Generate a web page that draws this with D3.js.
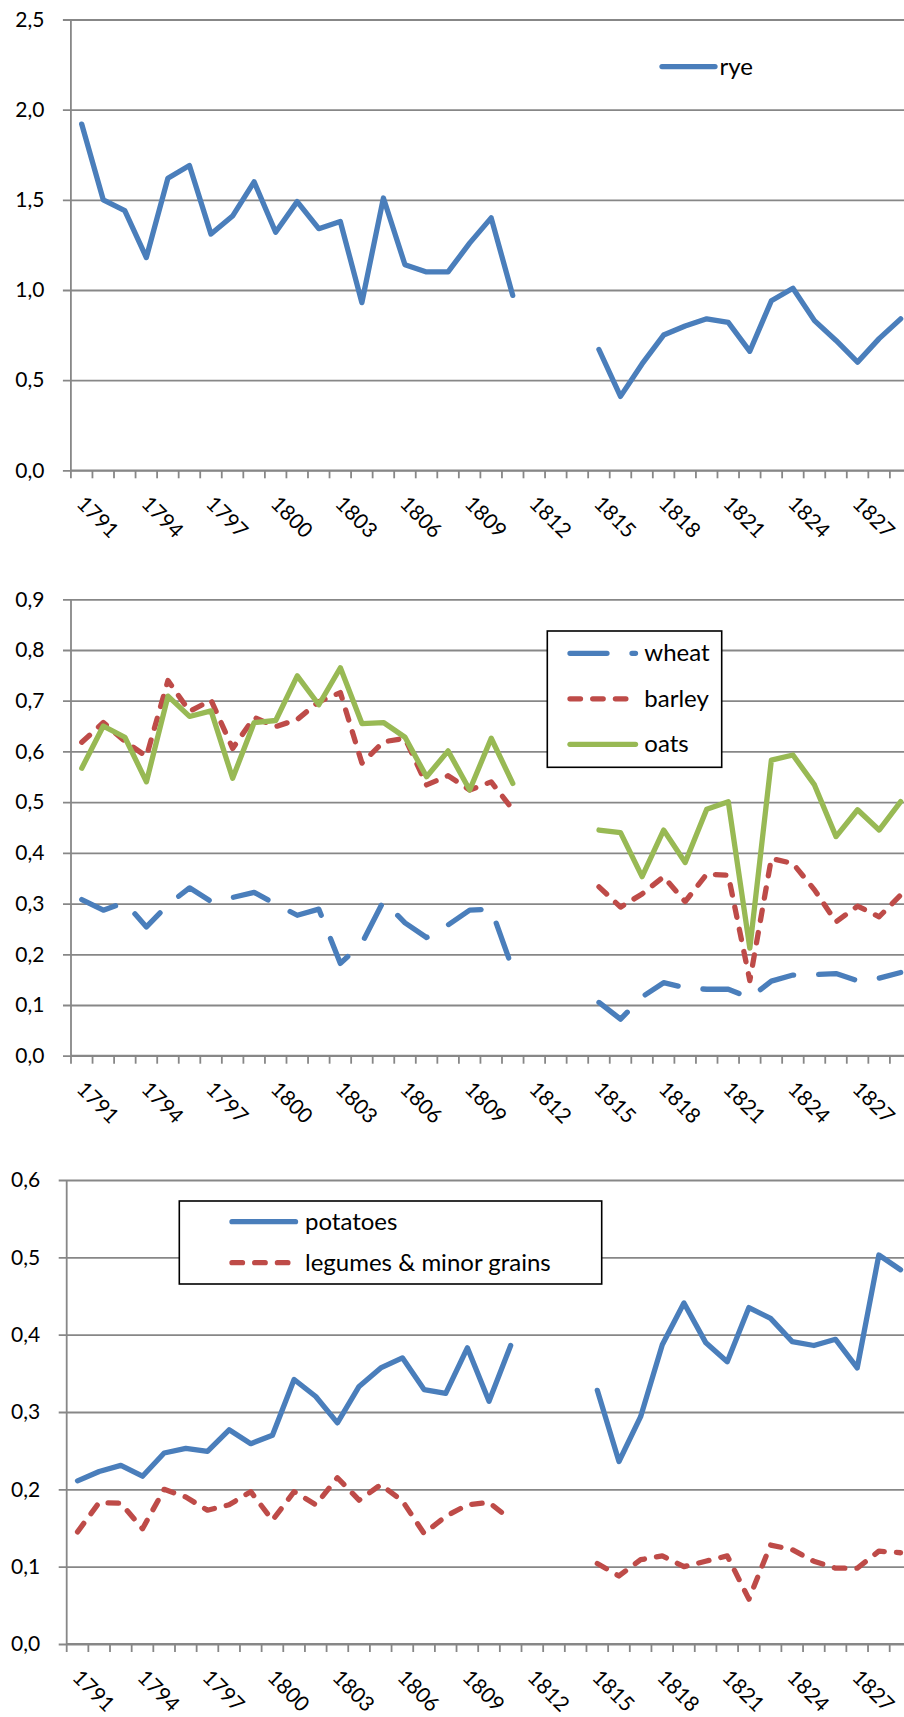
<!DOCTYPE html>
<html>
<head>
<meta charset="utf-8">
<script src="https://cdn.jsdelivr.net/npm/d3@7"></script>
<style>
  body { margin: 0; background: #fff; }
  svg { display: block; font-family: Lato, "Liberation Sans", sans-serif; }
</style>
</head>
<body>
<div id="chart"></div>
<script>
// categories (1812-1814 and 1830 have no data)
const years = [1791, 1792, 1793, 1794, 1795, 1796, 1797, 1798, 1799, 1800,
  1801, 1802, 1803, 1804, 1805, 1806, 1807, 1808, 1809, 1810,
  1811, 1812, 1813, 1814, 1815, 1816, 1817, 1818, 1819, 1820,
  1821, 1822, 1823, 1824, 1825, 1826, 1827, 1828, 1829, 1830];

const rye = [1.92, 1.50, 1.44, 1.18, 1.62, 1.69, 1.31, 1.41, 1.60, 1.32,
  1.49, 1.34, 1.38, 0.93, 1.51, 1.14, 1.10, 1.10, 1.26, 1.40,
  0.97, null, null, null, 0.67, 0.41, 0.59, 0.75, 0.80, 0.84,
  0.82, 0.66, 0.94, 1.01, 0.83, 0.72, 0.60, 0.73, 0.84, null];

const wheat = [0.308, 0.287, 0.302, 0.254, 0.298, 0.331, 0.304, 0.312, 0.322, 0.299,
  0.277, 0.289, 0.182, 0.222, 0.305, 0.262, 0.233, 0.258, 0.287, 0.289,
  0.170, null, null, null, 0.105, 0.072, 0.116, 0.144, 0.134, 0.131,
  0.131, 0.114, 0.147, 0.159, 0.160, 0.162, 0.148, 0.153, 0.164, null];

const barley = [0.618, 0.657, 0.620, 0.590, 0.740, 0.679, 0.701, 0.606, 0.667, 0.649,
  0.663, 0.698, 0.716, 0.577, 0.619, 0.626, 0.534, 0.552, 0.524, 0.540,
  0.485, null, null, null, 0.333, 0.293, 0.319, 0.353, 0.304, 0.358,
  0.356, 0.148, 0.389, 0.379, 0.327, 0.264, 0.295, 0.274, 0.317, null];

const oats = [0.567, 0.650, 0.628, 0.540, 0.709, 0.669, 0.680, 0.547, 0.657, 0.661,
  0.749, 0.692, 0.765, 0.655, 0.657, 0.628, 0.550, 0.601, 0.524, 0.626,
  0.537, null, null, null, 0.445, 0.440, 0.353, 0.445, 0.381, 0.486,
  0.501, 0.212, 0.583, 0.593, 0.534, 0.432, 0.485, 0.445, 0.501, null];

const potatoes = [0.211, 0.223, 0.231, 0.217, 0.247, 0.253, 0.249, 0.277, 0.259, 0.270,
  0.342, 0.320, 0.286, 0.333, 0.357, 0.370, 0.329, 0.324, 0.383, 0.314,
  0.386, null, null, null, 0.328, 0.236, 0.294, 0.387, 0.441, 0.390,
  0.365, 0.435, 0.421, 0.391, 0.386, 0.394, 0.357, 0.503, 0.484, null];

const legumes = [0.145, 0.183, 0.182, 0.149, 0.200, 0.190, 0.173, 0.180, 0.197, 0.160,
  0.197, 0.180, 0.215, 0.186, 0.206, 0.185, 0.143, 0.165, 0.180, 0.183,
  0.161, null, null, null, 0.104, 0.088, 0.109, 0.114, 0.100, 0.107,
  0.114, 0.058, 0.128, 0.122, 0.107, 0.098, 0.098, 0.120, 0.118, null];

const yTicks1 = [0, 0.5, 1, 1.5, 2, 2.5];
const yTicks2 = [0, 0.1, 0.2, 0.3, 0.4, 0.5, 0.6, 0.7, 0.8, 0.9];
const yTicks3 = [0, 0.1, 0.2, 0.3, 0.4, 0.5, 0.6];
// every third year; 1830 falls outside the visible area
const labelYears = [1791, 1794, 1797, 1800, 1803, 1806, 1809, 1812, 1815, 1818, 1821, 1824, 1827];

const blue = "#4a7ebb", red = "#be4b48", green = "#98b954";
const gridColor = "#878787";
const lineW = 5.3;
const dashes = { solid: null, longdash: "37 25", dash: "10.5 12.2" };

const width = 904, height = 1717;
const plotRight = 933;

const fmt = d3.formatLocale({ decimal: ",", thousands: ".", grouping: [3], currency: ["", ""] }).format(".1f");

const svg = d3.select("#chart").append("svg")
    .attr("width", width)
    .attr("height", height);

const panels = [
  { left: 70.9, top: 19.5, bottom: 470.3, max: 2.5, ticks: yTicks1,
    series: [{ name: "rye", values: rye, color: blue, dash: "solid" }],
    legend: { box: null, x: 662, y: 66.6, len: 53, textX: 719.5 } },
  { left: 71, top: 599.3, bottom: 1055.7, max: 0.9, ticks: yTicks2,
    series: [
      { name: "wheat", values: wheat, color: blue, dash: "longdash" },
      { name: "barley", values: barley, color: red, dash: "dash", legendLen: 61 },
      { name: "oats", values: oats, color: green, dash: "solid" }
    ],
    legend: { box: [547.3, 631, 174.4, 136.3], x: 570, y: 653.3, len: 65.5, step: 45.5, textX: 644.3 } },
  { left: 66.7, top: 1180, bottom: 1644, max: 0.6, ticks: yTicks3,
    series: [
      { name: "potatoes", values: potatoes, color: blue, dash: "solid" },
      { name: "legumes & minor grains", values: legumes, color: red, dash: "dash", legendLen: 58 }
    ],
    legend: { box: [179.3, 1201, 422.4, 83], x: 232, y: 1221.7, len: 63.5, step: 41, textX: 305 } }
];

panels.forEach(p => {
  const x = d3.scaleBand().domain(years).range([p.left, plotRight]);
  const y = d3.scaleLinear().domain([0, p.max]).range([p.bottom, p.top]);
  const g = svg.append("g");

  // gridlines + y ticks and labels
  const yAxis = g.append("g")
      .attr("transform", `translate(${p.left},0)`)
      .call(d3.axisLeft(y).tickValues(p.ticks).tickSize(-(plotRight - p.left)).tickPadding(26.5).tickFormat(fmt));
  yAxis.select(".domain").remove();
  yAxis.selectAll(".tick line")
      .attr("x1", -8)
      .attr("stroke", gridColor)
      .attr("stroke-width", 1.8);
  yAxis.selectAll(".tick text")
      .attr("fill", "#000")
      .style("font-size", "21px")
      .style("font-family", "Lato, sans-serif");

  // y axis line
  g.append("line")
      .attr("x1", p.left).attr("x2", p.left)
      .attr("y1", p.top).attr("y2", p.bottom)
      .attr("stroke", gridColor).attr("stroke-width", 1.8);

  // x axis with ticks between categories
  const xAxis = g.append("g")
      .attr("transform", `translate(0,${p.bottom})`)
      .call(d3.axisBottom(x).tickValues(labelYears).tickSize(0));
  xAxis.select(".domain")
      .attr("stroke", gridColor).attr("stroke-width", 1.8)
      .attr("d", `M${p.left},0H${plotRight}`);
  xAxis.selectAll(".tick text")
      .attr("y", 0).attr("dy", "0.35em")
      .attr("x", 0)
      .attr("text-anchor", "start")
      .attr("transform", "translate(-1,29.5) rotate(45)")
      .attr("fill", "#000")
      .style("font-size", "21px")
      .style("font-family", "Lato, sans-serif");
  g.append("g").selectAll("line")
      .data(years.concat([null]))
      .join("line")
      .attr("x1", d => d === null ? plotRight : x(d))
      .attr("x2", d => d === null ? plotRight : x(d))
      .attr("y1", p.bottom).attr("y2", p.bottom + 8)
      .attr("stroke", gridColor).attr("stroke-width", 1.8);

  // series
  const line = d3.line()
      .defined(d => d.v !== null)
      .x(d => x(d.year) + x.bandwidth() / 2)
      .y(d => y(d.v));

  p.series.forEach(s => {
    g.append("path")
        .datum(years.map((yr, i) => ({ year: yr, v: s.values[i] })))
        .attr("d", line)
        .attr("fill", "none")
        .attr("stroke", s.color)
        .attr("stroke-width", lineW)
        .attr("stroke-linejoin", "round")
        .attr("stroke-linecap", "round")
        .attr("stroke-dasharray", dashes[s.dash]);
  });

  // legend
  const lg = p.legend;
  const leg = g.append("g");
  if (lg.box) {
    leg.append("rect")
        .attr("x", lg.box[0]).attr("y", lg.box[1])
        .attr("width", lg.box[2]).attr("height", lg.box[3])
        .attr("fill", "#fff")
        .attr("stroke", "#000")
        .attr("stroke-width", 1.6);
  }
  p.series.forEach((s, i) => {
    const ly = lg.y + i * (lg.step || 0);
    leg.append("line")
        .attr("x1", lg.x).attr("x2", lg.x + (s.legendLen || lg.len))
        .attr("y1", ly).attr("y2", ly)
        .attr("stroke", s.color)
        .attr("stroke-width", lineW)
        .attr("stroke-linecap", "round")
        .attr("stroke-dasharray", dashes[s.dash]);
    leg.append("text")
        .attr("x", lg.textX).attr("y", ly)
        .attr("dy", "0.33em")
        .style("font-size", "24px")
        .attr("fill", "#000")
        .text(s.name);
  });
});
</script>
</body>
</html>
